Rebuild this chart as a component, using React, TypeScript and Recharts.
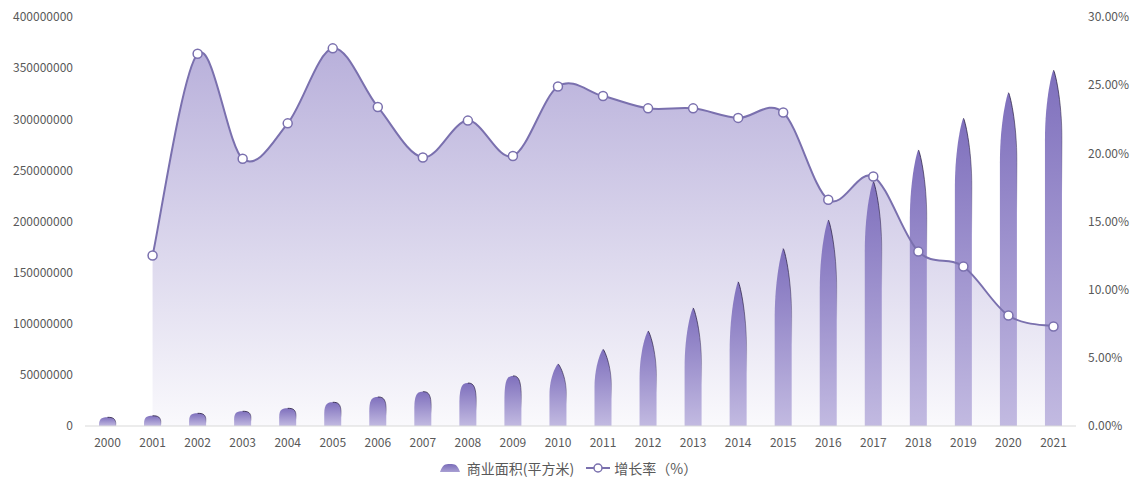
import React from "react";
import { ComposedChart, Bar, Area, Line, XAxis, YAxis, Legend } from "recharts";

// 年份
const years = [
  "2000", "2001", "2002", "2003", "2004", "2005", "2006", "2007", "2008", "2009", "2010",
  "2011", "2012", "2013", "2014", "2015", "2016", "2017", "2018", "2019", "2020", "2021",
];

// 商业面积（平方米）
const areaValues = [
  8500000, 10000000, 12400000, 14400000, 17300000, 23200000, 28400000, 33600000, 42000000,
  49000000, 60700000, 75000000, 93000000, 115500000, 141000000, 173500000, 201500000,
  239000000, 270000000, 301000000, 326000000, 348000000,
];

// 增长率（%），2000 年无数据
const growthValues: (number | null)[] = [
  null, 12.5, 27.3, 19.6, 22.2, 27.7, 23.4, 19.7, 22.4, 19.8, 24.9,
  24.2, 23.3, 23.3, 22.6, 23.0, 16.6, 18.3, 12.8, 11.7, 8.1, 7.3,
];

const leftTicks = [0, 50000000, 100000000, 150000000, 200000000, 250000000, 300000000, 350000000, 400000000];
const rightTicks = [0, 5, 10, 15, 20, 25, 30];

const data = years.map((year, i) => ({
  year,
  area: areaValues[i],
  growth: growthValues[i],
}));

const LINE_COLOR = "#7a70ae";
const TEXT_COLOR = "#595959";
const FONT = "'Noto Sans CJK SC', 'Noto Sans', sans-serif";

// Smooth Catmull-Rom style curve (cubic Bezier through every point)
function smoothCurve(context: any) {
  let line = NaN;
  let pts: number[][] = [];
  const k = 1 / 6;
  return {
    areaStart() {
      line = 0;
    },
    areaEnd() {
      line = NaN;
    },
    lineStart() {
      pts = [];
    },
    lineEnd() {
      const n = pts.length;
      if (n > 0) {
        const [x0, y0] = pts[0];
        if (line) context.lineTo(x0, y0);
        else context.moveTo(x0, y0);
        if (n === 2) {
          context.lineTo(pts[1][0], pts[1][1]);
        } else {
          for (let i = 0; i < n - 1; i++) {
            const p0 = pts[Math.max(i - 1, 0)];
            const p1 = pts[i];
            const p2 = pts[i + 1];
            const p3 = pts[Math.min(i + 2, n - 1)];
            context.bezierCurveTo(
              p1[0] + (p2[0] - p0[0]) * k,
              p1[1] + (p2[1] - p0[1]) * k,
              p2[0] - (p3[0] - p1[0]) * k,
              p2[1] - (p3[1] - p1[1]) * k,
              p2[0],
              p2[1]
            );
          }
        }
      }
      if (line || (line !== 0 && n === 1)) context.closePath();
      line = 1 - line;
    },
    point(x: number, y: number) {
      pts.push([+x, +y]);
    },
  };
}

// Bullet-shaped column: rounded dome when short, tapered tip when tall
function PeakBar(props: any) {
  const { x, y, width, height } = props;
  if (!height || height <= 0) return null;
  const w = width;
  const cx = x + w / 2;
  const bottom = y + height;
  const tall = height > 60;
  const t = Math.min(70, Math.max(height * 0.5, Math.min(height, 8)));
  const tip = tall ? 0.06 : 0.3;
  const side = tall ? 0.4 : 0.1;
  const body = `M${x},${bottom} L${x},${y + t} C${x},${y + t * side} ${cx - w * tip},${y} ${cx},${y} C${cx + w * tip},${y} ${x + w},${y + t * side} ${x + w},${y + t} L${x + w},${bottom} Z`;
  const edge = `M${cx},${y} C${cx + w * tip},${y} ${x + w},${y + t * side} ${x + w},${y + t} L${x + w},${y + t + height * 0.15}`;
  return (
    <g>
      <path d={body} fill="url(#barFill)" />
      <path d={edge} fill="none" stroke="url(#barEdge)" strokeWidth={1} />
    </g>
  );
}

function LegendContent() {
  return (
    <div
      style={{
        display: "flex",
        justifyContent: "center",
        alignItems: "center",
        fontFamily: FONT,
        fontSize: 14,
        color: TEXT_COLOR,
        gap: 12,
        paddingTop: 7,
      }}
    >
      <span style={{ display: "flex", alignItems: "center", gap: 6 }}>
        <svg width={22} height={10}>
          <defs>
            <linearGradient id="legBar" x1="0" y1="0" x2="0" y2="1">
              <stop offset="0%" stopColor="#7a6cb8" />
              <stop offset="100%" stopColor="#a89fd3" />
            </linearGradient>
          </defs>
          <path d="M1,9 C4,1 6,1 11,1 C16,1 18,1 21,9 Z" fill="url(#legBar)" />
        </svg>
        商业面积(平方米)
      </span>
      <span style={{ display: "flex", alignItems: "center", gap: 4 }}>
        <svg width={24} height={10}>
          <line x1={0} y1={5} x2={24} y2={5} stroke={LINE_COLOR} strokeWidth={2} />
          <circle cx={12} cy={5} r={4} fill="#fff" stroke={LINE_COLOR} strokeWidth={1.5} />
        </svg>
        增长率（%）
      </span>
    </div>
  );
}

export default function App() {
  return (
    <div style={{ position: "absolute", left: 0, top: 0 }}>
      <ComposedChart
        width={1136}
        height={481}
        data={data}
        margin={{ top: 17, right: 0, bottom: 0, left: 0 }}
        barCategoryGap={0}
      >
        <defs>
          <linearGradient id="areaFill" x1="0" y1="0" x2="0" y2="1">
            <stop offset="0%" stopColor="#9a8ecb" stopOpacity={0.7} />
            <stop offset="100%" stopColor="#9a8ecb" stopOpacity={0.05} />
          </linearGradient>
          <linearGradient id="barFill" x1="0" y1="0" x2="0" y2="1">
            <stop offset="0%" stopColor="#7f70bd" />
            <stop offset="100%" stopColor="#c2bae1" />
          </linearGradient>
          <linearGradient id="barEdge" x1="0" y1="0" x2="0" y2="1">
            <stop offset="0%" stopColor="#241a3c" stopOpacity={0.8} />
            <stop offset="100%" stopColor="#241a3c" stopOpacity={0} />
          </linearGradient>
        </defs>
        <XAxis
          dataKey="year"
          interval={0}
          tickLine={false}
          tickSize={0}
          tickMargin={12}
          height={25}
          axisLine={{ stroke: "#d9d9d9" }}
          tick={{ fill: TEXT_COLOR, fontSize: 12, fontFamily: FONT }}
        />
        <YAxis
          yAxisId="left"
          orientation="left"
          width={85}
          domain={[0, 400000000]}
          ticks={leftTicks}
          interval={0}
          axisLine={false}
          tickLine={false}
          tickSize={0}
          tickMargin={12}
          tick={{ fill: TEXT_COLOR, fontSize: 12, fontFamily: FONT }}
        />
        <YAxis
          yAxisId="right"
          orientation="right"
          width={60}
          domain={[0, 30]}
          ticks={rightTicks}
          interval={0}
          axisLine={false}
          tickLine={false}
          tickSize={0}
          tickMargin={12}
          tickFormatter={(v: number) => `${v.toFixed(2)}%`}
          tick={{ fill: TEXT_COLOR, fontSize: 12, fontFamily: FONT }}
        />
        <Legend verticalAlign="bottom" height={30} content={<LegendContent />} />
        <Area
          yAxisId="right"
          dataKey="growth"
          type={smoothCurve as any}
          stroke="none"
          fill="url(#areaFill)"
          fillOpacity={1}
          dot={false}
          activeDot={false}
          isAnimationActive={false}
          legendType="none"
        />
        <Bar
          yAxisId="left"
          dataKey="area"
          barSize={17}
          shape={PeakBar}
          isAnimationActive={false}
        />
        <Line
          yAxisId="right"
          dataKey="growth"
          type={smoothCurve as any}
          stroke={LINE_COLOR}
          strokeWidth={2}
          dot={{ r: 4.5, fill: "#fff", stroke: LINE_COLOR, strokeWidth: 1.5 }}
          activeDot={false}
          isAnimationActive={false}
        />
      </ComposedChart>
    </div>
  );
}
